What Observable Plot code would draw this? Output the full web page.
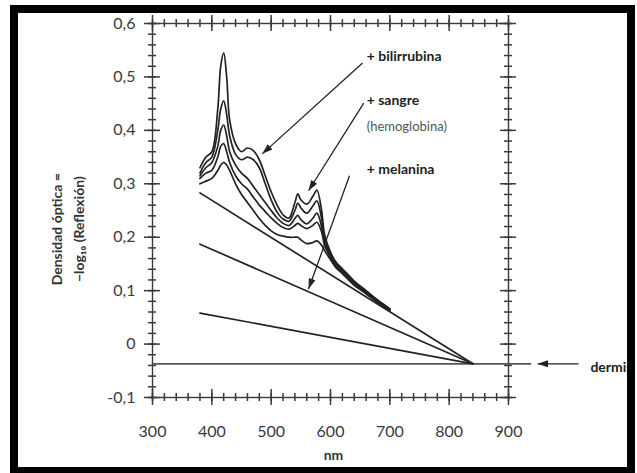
<!DOCTYPE html>
<html><head><meta charset="utf-8">
<script src="https://cdn.jsdelivr.net/npm/d3@7"></script>
<script src="https://cdn.jsdelivr.net/npm/@observablehq/plot@0.6"></script>
<style>
html,body{margin:0;padding:0;background:#fff;}
#wrap{position:relative;width:637px;height:473px;overflow:hidden;background:#fff;}
#wrap svg{position:absolute;left:0;top:0;}
#border{position:absolute;left:10px;top:5px;width:625px;height:468px;box-sizing:border-box;border-style:solid;border-color:#000;border-width:8px 8px 6px 8px;pointer-events:none;}
</style></head>
<body><div id="wrap"><div id="border"></div></div>
<script>
// wavelengths (nm) at which the spectra were read
const wavelengths = [380,390,400,410,415,420,425,430,440,450,460,470,480,490,500,510,520,530,540,545,550,560,570,577,585,590,600,610,620,640,660,680,700];
// optical density spectra (top = bilirubin + blood ... bottom)
const spectrumA = [0.33,0.35,0.36,0.44,0.52,0.545,0.50,0.42,0.375,0.36,0.367,0.362,0.345,0.315,0.285,0.26,0.242,0.236,0.265,0.281,0.27,0.262,0.276,0.288,0.25,0.205,0.172,0.152,0.141,0.118,0.1,0.082,0.066];
const spectrumB = [0.32,0.34,0.35,0.40,0.44,0.455,0.43,0.39,0.355,0.345,0.35,0.345,0.33,0.30,0.27,0.247,0.234,0.23,0.25,0.264,0.255,0.245,0.258,0.268,0.235,0.196,0.168,0.149,0.139,0.116,0.098,0.08,0.065];
const spectrumC = [0.315,0.33,0.34,0.37,0.40,0.41,0.39,0.36,0.335,0.32,0.31,0.295,0.28,0.265,0.25,0.236,0.226,0.222,0.235,0.241,0.233,0.225,0.235,0.245,0.22,0.19,0.165,0.146,0.136,0.114,0.097,0.079,0.064];
const spectrumD = [0.31,0.32,0.325,0.35,0.37,0.375,0.36,0.34,0.315,0.30,0.29,0.275,0.26,0.248,0.236,0.226,0.218,0.215,0.222,0.226,0.222,0.216,0.222,0.228,0.21,0.185,0.162,0.144,0.134,0.112,0.095,0.078,0.063];
const spectrumE = [0.30,0.305,0.31,0.325,0.335,0.34,0.335,0.325,0.30,0.28,0.265,0.25,0.235,0.222,0.212,0.205,0.202,0.2,0.2,0.2,0.195,0.188,0.19,0.193,0.185,0.175,0.158,0.142,0.132,0.11,0.094,0.077,0.062];
// straight (melanin) lines: start at 380 nm, converge at 840 nm
const lineStartX = 380, lineEndX = 840;
const lineStartY = [0.283, 0.187, 0.058];
const dermisLevel = -0.037;
const dermisLineX = [300, 937];
// axis ticks
const xMajor = [300,400,500,600,700,800,900];
const xMinor = d3.range(300, 901, 20);
const yMajor = [-0.1,0,0.1,0.2,0.3,0.4,0.5,0.6];
const yMinor = d3.range(-10, 61, 2).map(v => v / 100);
const yLabels = ["-0,1","0","0,1","0,2","0,3","0,4","0,5","0,6"];
// annotations
const annLabels = ["+ bilirrubina", "+ sangre", "+ melanina"];
const annLabelX = [661, 661, 661];
const annLabelY = [0.539, 0.455, 0.326];
const subLabel = "(hemoglobina)", subLabelX = 661, subLabelY = 0.406;
const arrowFromX = [654, 656, 632], arrowFromY = [0.526, 0.451, 0.315];
const arrowToX = [485, 563, 563], arrowToY = [0.356, 0.287, 0.103];
const dermisArrowX = [1018, 949];
const dermisLabel = "dermis", dermisLabelX = 1038;
const yTitle = ["Densidad óptica =", "−log₁₀ (Reflexión)"];
const yTitleX = [140, 177];
const yTitleY = 0.215;
const xTitle = "nm";

const spectra = [spectrumA, spectrumB, spectrumC, spectrumD, spectrumE];
const curveData = spectra.flatMap((s, k) => s.map((v, i) => ({series: k, x: wavelengths[i], y: v})));
const straightData = lineStartY.flatMap((v, k) => [{series: k, x: lineStartX, y: v}, {series: k, x: lineEndX, y: dermisLevel}]);
const arrows = arrowFromX.map((d, i) => ({x1: d, y1: arrowFromY[i], x2: arrowToX[i], y2: arrowToY[i]}));
arrows.push({x1: dermisArrowX[0], y1: dermisLevel, x2: dermisArrowX[1], y2: dermisLevel});
const ink = "#222";
const axisInk = "#3a3a3a";

const chart = Plot.plot({
  width: 637, height: 473,
  marginLeft: 152, marginRight: 129, marginTop: 23, marginBottom: 76,
  x: {domain: [300, 900], axis: null},
  y: {domain: [-0.1, 0.6], axis: null},
  style: {fontFamily: "Lato, 'Open Sans', sans-serif", background: "transparent", overflow: "visible"},
  marks: [
    Plot.frame({stroke: axisInk, strokeWidth: 1.4}),
    // crossing ticks on all four sides
    Plot.ruleX(xMinor, {x: d => d, y1: -0.1, y2: -0.1, insetTop: -4, insetBottom: -4, stroke: axisInk, strokeWidth: 1.5}),
    Plot.ruleX(xMinor, {x: d => d, y1: 0.6, y2: 0.6, insetTop: -4, insetBottom: -4, stroke: axisInk, strokeWidth: 1.5}),
    Plot.ruleX(xMajor, {x: d => d, y1: -0.1, y2: -0.1, insetTop: -8, insetBottom: -8, stroke: axisInk, strokeWidth: 1.5}),
    Plot.ruleX(xMajor, {x: d => d, y1: 0.6, y2: 0.6, insetTop: -8, insetBottom: -8, stroke: axisInk, strokeWidth: 1.5}),
    Plot.ruleY(yMinor, {y: d => d, x1: 300, x2: 300, insetLeft: -4, insetRight: -4, stroke: axisInk, strokeWidth: 1.5}),
    Plot.ruleY(yMinor, {y: d => d, x1: 900, x2: 900, insetLeft: -4, insetRight: -4, stroke: axisInk, strokeWidth: 1.5}),
    Plot.ruleY(yMajor, {y: d => d, x1: 300, x2: 300, insetLeft: -8, insetRight: -8, stroke: axisInk, strokeWidth: 1.5}),
    Plot.ruleY(yMajor, {y: d => d, x1: 900, x2: 900, insetLeft: -8, insetRight: -8, stroke: axisInk, strokeWidth: 1.5}),
    // tick labels
    Plot.text(yMajor, {x: 300, y: d => d, text: (d, i) => yLabels[i], textAnchor: "end", dx: -17, fontSize: 16, fill: "#3a3a3a"}),
    Plot.text(xMajor, {x: d => d, y: -0.1, text: d => String(d), dy: 34, fontSize: 16, fill: "#3a3a3a"}),
    Plot.text([xTitle], {x: 605, y: -0.1, text: d => d, dy: 58, fontSize: 14, fontWeight: "bold", fill: "#333"}),
    Plot.text(yTitle, {x: (d, i) => yTitleX[i], y: yTitleY, text: d => d, rotate: -90, fontSize: 14, fontWeight: "bold", fill: "#333"}),
    // dermis line and straight melanin lines
    Plot.line(dermisLineX, {x: d => d, y: dermisLevel, stroke: "#555", strokeWidth: 1.8}),
    Plot.line(straightData, {x: "x", y: "y", z: "series", stroke: ink, strokeWidth: 1.7}),
    // spectra
    Plot.line(curveData, {x: "x", y: "y", z: "series", stroke: ink, strokeWidth: 1.7, curve: "catmull-rom"}),
    // arrows
    Plot.link(arrows, {x1: "x1", y1: "y1", x2: "x2", y2: "y2", stroke: ink, strokeWidth: 1.3, className: "annarrow"}),
    // annotation labels
    Plot.text(annLabels, {x: (d, i) => annLabelX[i], y: (d, i) => annLabelY[i], text: d => d, textAnchor: "start", fontSize: 14, fontWeight: "bold", fill: "#222"}),
    Plot.text([subLabel], {x: subLabelX, y: subLabelY, text: d => d, textAnchor: "start", fontSize: 13, fill: "#555"}),
    Plot.text([dermisLabel], {x: dermisLabelX, y: dermisLevel, text: d => d, textAnchor: "start", dy: 4, fontSize: 14, fontWeight: "bold", fill: "#222"})
  ]
});

// filled arrowheads
const svg = d3.select(chart);
const defs = svg.insert("defs", ":first-child");
defs.append("marker").attr("id", "ahead").attr("viewBox", "0 0 12 8").attr("refX", 12).attr("refY", 4)
  .attr("markerWidth", 13).attr("markerHeight", 7).attr("markerUnits", "userSpaceOnUse").attr("orient", "auto")
  .append("path").attr("d", "M0,0L12,4L0,8z").attr("fill", ink);
svg.selectAll(".annarrow path").attr("marker-end", "url(#ahead)");

document.getElementById("wrap").insertBefore(chart, document.getElementById("border"));
</script>
</body></html>
